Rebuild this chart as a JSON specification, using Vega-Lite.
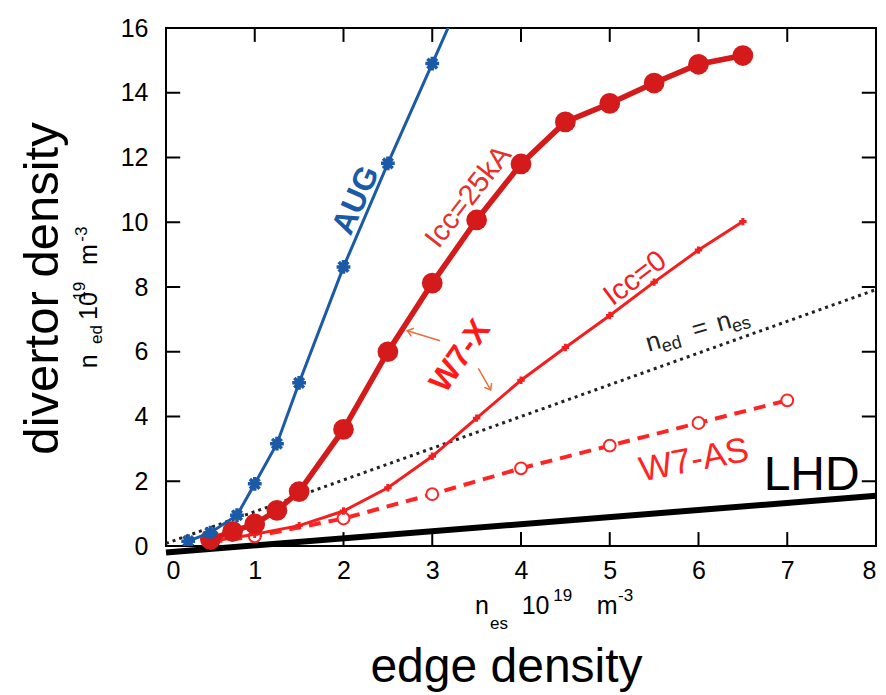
{
  "$schema": "https://vega.github.io/schema/vega-lite/v6.json",
  "width": 710,
  "height": 518,
  "autosize": {"type": "none"},
  "padding": {"left": 166, "top": 28, "right": 10, "bottom": 149},
  "background": "white",
  "config": {
    "font": "Liberation Sans",
    "view": {"stroke": "black", "strokeWidth": 2},
    "axis": {
      "grid": false,
      "domain": false,
      "ticks": false,
      "labelFontSize": 25,
      "labelColor": "black",
      "labelFont": "Liberation Sans",
      "titleColor": "black",
      "titleFont": "Liberation Sans",
      "titleFontWeight": "normal"
    }
  },
  "datasets": {
    "lhd": [{"x": 0, "y": -0.2}, {"x": 8, "y": 1.55}],
    "ref": [{"x": 0, "y": 0.08}, {"x": 8, "y": 7.92}],
    "ticks": [
      {"id": "b1", "x": 1, "y": 0}, {"id": "b1", "x": 1, "y": 0.43},
      {"id": "b2", "x": 2, "y": 0}, {"id": "b2", "x": 2, "y": 0.43},
      {"id": "b3", "x": 3, "y": 0}, {"id": "b3", "x": 3, "y": 0.43},
      {"id": "b4", "x": 4, "y": 0}, {"id": "b4", "x": 4, "y": 0.43},
      {"id": "b5", "x": 5, "y": 0}, {"id": "b5", "x": 5, "y": 0.43},
      {"id": "b6", "x": 6, "y": 0}, {"id": "b6", "x": 6, "y": 0.43},
      {"id": "b7", "x": 7, "y": 0}, {"id": "b7", "x": 7, "y": 0.43},
      {"id": "t1", "x": 1, "y": 16}, {"id": "t1", "x": 1, "y": 15.57},
      {"id": "t2", "x": 2, "y": 16}, {"id": "t2", "x": 2, "y": 15.57},
      {"id": "t3", "x": 3, "y": 16}, {"id": "t3", "x": 3, "y": 15.57},
      {"id": "t4", "x": 4, "y": 16}, {"id": "t4", "x": 4, "y": 15.57},
      {"id": "t5", "x": 5, "y": 16}, {"id": "t5", "x": 5, "y": 15.57},
      {"id": "t6", "x": 6, "y": 16}, {"id": "t6", "x": 6, "y": 15.57},
      {"id": "t7", "x": 7, "y": 16}, {"id": "t7", "x": 7, "y": 15.57},
      {"id": "l2", "x": 0, "y": 2}, {"id": "l2", "x": 0.16, "y": 2},
      {"id": "l4", "x": 0, "y": 4}, {"id": "l4", "x": 0.16, "y": 4},
      {"id": "l6", "x": 0, "y": 6}, {"id": "l6", "x": 0.16, "y": 6},
      {"id": "l8", "x": 0, "y": 8}, {"id": "l8", "x": 0.16, "y": 8},
      {"id": "l10", "x": 0, "y": 10}, {"id": "l10", "x": 0.16, "y": 10},
      {"id": "l12", "x": 0, "y": 12}, {"id": "l12", "x": 0.16, "y": 12},
      {"id": "l14", "x": 0, "y": 14}, {"id": "l14", "x": 0.16, "y": 14},
      {"id": "r2", "x": 7.84, "y": 2}, {"id": "r2", "x": 8, "y": 2},
      {"id": "r4", "x": 7.84, "y": 4}, {"id": "r4", "x": 8, "y": 4},
      {"id": "r6", "x": 7.84, "y": 6}, {"id": "r6", "x": 8, "y": 6},
      {"id": "r8", "x": 7.84, "y": 8}, {"id": "r8", "x": 8, "y": 8},
      {"id": "r10", "x": 7.84, "y": 10}, {"id": "r10", "x": 8, "y": 10},
      {"id": "r12", "x": 7.84, "y": 12}, {"id": "r12", "x": 8, "y": 12},
      {"id": "r14", "x": 7.84, "y": 14}, {"id": "r14", "x": 8, "y": 14}
    ],
    "aug": [
      {"x": 0.25, "y": 0.15}, {"x": 0.5, "y": 0.41}, {"x": 0.8, "y": 0.95}, {"x": 1.0, "y": 1.92},
      {"x": 1.25, "y": 3.16}, {"x": 1.5, "y": 5.04}, {"x": 2.0, "y": 8.62}, {"x": 2.5, "y": 11.82},
      {"x": 3.0, "y": 14.9}, {"x": 3.5, "y": 18.0}
    ],
    "w7x25": [
      {"x": 0.5, "y": 0.2}, {"x": 0.75, "y": 0.45}, {"x": 1.0, "y": 0.68}, {"x": 1.25, "y": 1.1},
      {"x": 1.5, "y": 1.68}, {"x": 2.0, "y": 3.6}, {"x": 2.5, "y": 6.0}, {"x": 3.0, "y": 8.12},
      {"x": 3.5, "y": 10.07}, {"x": 4.0, "y": 11.8}, {"x": 4.5, "y": 13.1}, {"x": 5.0, "y": 13.67},
      {"x": 5.5, "y": 14.3}, {"x": 6.0, "y": 14.88}, {"x": 6.5, "y": 15.15}
    ],
    "w7x0": [
      {"x": 0.5, "y": 0.15}, {"x": 0.75, "y": 0.25}, {"x": 1.0, "y": 0.36}, {"x": 1.5, "y": 0.63},
      {"x": 2.0, "y": 1.08}, {"x": 2.5, "y": 1.8}, {"x": 3.0, "y": 2.77}, {"x": 3.5, "y": 3.95},
      {"x": 4.0, "y": 5.12}, {"x": 4.5, "y": 6.13}, {"x": 5.0, "y": 7.12}, {"x": 5.5, "y": 8.15},
      {"x": 6.0, "y": 9.14}, {"x": 6.5, "y": 10.02}
    ],
    "w7as": [
      {"x": 0.5, "y": 0.12}, {"x": 1.0, "y": 0.3}, {"x": 2.0, "y": 0.85}, {"x": 3.0, "y": 1.6},
      {"x": 4.0, "y": 2.4}, {"x": 5.0, "y": 3.1}, {"x": 6.0, "y": 3.8}, {"x": 7.0, "y": 4.5}
    ]
  },
  "encoding": {
    "x": {"field": "x", "type": "quantitative", "scale": {"domain": [0, 8], "nice": false, "zero": false}, "axis": null},
    "y": {"field": "y", "type": "quantitative", "scale": {"domain": [0, 16], "nice": false, "zero": false}, "axis": null}
  },
  "layer": [
    {
      "data": {"name": "lhd"},
      "mark": {"type": "line", "color": "black", "strokeWidth": 6, "clip": false},
      "encoding": {
        "x": {"field": "x", "type": "quantitative", "scale": {"domain": [0, 8], "nice": false, "zero": false},
          "axis": {"orient": "bottom", "values": [0, 1, 2, 3, 4, 5, 6, 7, 8], "format": "d", "labelPadding": 12,
            "title": "edge density", "titleFontSize": 48, "titleBaseline": "alphabetic", "titleX": 340, "titleY": 135}},
        "y": {"field": "y", "type": "quantitative", "scale": {"domain": [0, 16], "nice": false, "zero": false},
          "axis": {"orient": "left", "values": [0, 2, 4, 6, 8, 10, 12, 14, 16], "format": "d", "labelPadding": 18,
            "title": "divertor density", "titleFontSize": 49, "titleBaseline": "alphabetic", "titleAngle": 270, "titleX": -109, "titleY": 260}}
      }
    },
    {
      "data": {"name": "ticks"},
      "mark": {"type": "line", "color": "black", "strokeWidth": 2, "clip": false},
      "encoding": {"detail": {"field": "id"}}
    },
    {
      "data": {"name": "ref"},
      "mark": {"type": "line", "color": "#222222", "strokeWidth": 3, "strokeDash": [3, 4]}
    },
    {
      "data": {"name": "w7as"},
      "mark": {"type": "line", "color": "#ff2424", "strokeWidth": 4, "strokeDash": [12, 8]}
    },
    {
      "data": {"name": "w7as"},
      "mark": {"type": "point", "shape": "circle", "filled": false, "fill": "white", "fillOpacity": 1, "stroke": "#ff2424", "strokeWidth": 2, "size": 140, "opacity": 1}
    },
    {
      "data": {"name": "w7x0"},
      "mark": {"type": "line", "color": "#f51e1e", "strokeWidth": 3}
    },
    {
      "data": {"name": "w7x0"},
      "mark": {"type": "point", "shape": "cross", "filled": true, "color": "#f51e1e", "size": 55, "opacity": 1}
    },
    {
      "data": {"name": "w7x25"},
      "mark": {"type": "line", "color": "#d41a1a", "strokeWidth": 5.5}
    },
    {
      "data": {"name": "w7x25"},
      "mark": {"type": "point", "shape": "circle", "filled": true, "color": "#d41a1a", "size": 430, "opacity": 1}
    },
    {
      "data": {"name": "aug"},
      "mark": {"type": "line", "color": "#1a5aa6", "strokeWidth": 3, "clip": true}
    },
    {
      "data": {"name": "aug"},
      "mark": {"type": "point", "shape": "M0,-1L0,1M-1,0L1,0M-0.7,-0.7L0.7,0.7M-0.7,0.7L0.7,-0.7", "filled": false, "stroke": "#1a5aa6", "strokeWidth": 3.5, "size": 190, "opacity": 1, "clip": true}
    },
    {
      "data": {"values": [{"x": 3.088, "y": 6.34, "x2": 2.719, "y2": 6.65}, {"x": 3.519, "y": 5.49, "x2": 3.658, "y2": 4.82}]},
      "mark": {"type": "rule", "color": "#e8703a", "strokeWidth": 1.5},
      "encoding": {
        "x2": {"field": "x2"},
        "y2": {"field": "y2"}
      }
    },
    {
      "data": {"values": [{"x": 2.719, "y": 6.65}]},
      "mark": {"type": "point", "shape": "M-0.7,0.9L0,0L0.7,0.9", "filled": false, "stroke": "#e8703a", "strokeWidth": 1.5, "size": 150, "angle": 287, "opacity": 1}
    },
    {
      "data": {"values": [{"x": 3.658, "y": 4.82}]},
      "mark": {"type": "point", "shape": "M-0.7,0.9L0,0L0.7,0.9", "filled": false, "stroke": "#e8703a", "strokeWidth": 1.5, "size": 150, "angle": 150, "opacity": 1}
    },
    {
      "data": {"values": [{"t": "AUG", "x": 2.14, "y": 10.68}]},
      "mark": {"type": "text", "font": "Liberation Sans", "fontWeight": "bold", "fontSize": 32, "angle": 294, "color": "#1a5aa6", "align": "center", "baseline": "middle"},
      "encoding": {"text": {"field": "t"}}
    },
    {
      "data": {"values": [{"t": "Icc=25kA", "x": 3.406, "y": 10.79}]},
      "mark": {"type": "text", "font": "Liberation Sans", "fontSize": 29, "angle": 308, "color": "#e8302a", "align": "center", "baseline": "middle"},
      "encoding": {"text": {"field": "t"}}
    },
    {
      "data": {"values": [{"t": "Icc=0", "x": 5.285, "y": 8.27}]},
      "mark": {"type": "text", "font": "Liberation Sans", "fontSize": 29, "angle": 323, "color": "#f51e1e", "align": "center", "baseline": "middle"},
      "encoding": {"text": {"field": "t"}}
    },
    {
      "data": {"values": [{"t": "W7-X", "x": 3.313, "y": 5.87}]},
      "mark": {"type": "text", "font": "Liberation Sans", "fontWeight": "bold", "fontSize": 32, "angle": 305, "color": "#ff1a1a", "align": "center", "baseline": "middle"},
      "encoding": {"text": {"field": "t"}}
    },
    {
      "data": {"values": [{"t": "W7-AS", "x": 5.949, "y": 2.656}]},
      "mark": {"type": "text", "font": "Liberation Sans", "fontSize": 35, "angle": 349, "color": "#ff2424", "align": "center", "baseline": "middle"},
      "encoding": {"text": {"field": "t"}}
    },
    {
      "data": {"values": [{"t": "LHD", "x": 7.275, "y": 1.73}]},
      "mark": {"type": "text", "font": "Liberation Sans", "fontSize": 48, "color": "black", "align": "center", "baseline": "alphabetic"},
      "encoding": {"text": {"field": "t"}}
    },
    {
      "data": {"values": [{"t": "n", "x": 5.438, "y": 6.003}, {"t": "=", "x": 5.958, "y": 6.409}, {"t": "n", "x": 6.23, "y": 6.622}]},
      "mark": {"type": "text", "font": "Liberation Sans", "fontSize": 26, "angle": 344, "color": "#222222", "align": "left", "baseline": "alphabetic"},
      "encoding": {"text": {"field": "t"}}
    },
    {
      "data": {"values": [{"t": "ed", "x": 5.606, "y": 5.974}, {"t": "es", "x": 6.397, "y": 6.594}]},
      "mark": {"type": "text", "font": "Liberation Sans", "fontSize": 18, "angle": 344, "color": "#222222", "align": "left", "baseline": "alphabetic"},
      "encoding": {"text": {"field": "t"}}
    },
    {
      "data": {"values": [{"t": "n", "x": 3.482, "y": -2.1}, {"t": "10", "x": 4.008, "y": -2.1}, {"t": "m", "x": 4.853, "y": -2.1}]},
      "mark": {"type": "text", "font": "Liberation Sans", "fontSize": 25, "color": "black", "align": "left", "baseline": "alphabetic", "clip": false},
      "encoding": {"text": {"field": "t"}}
    },
    {
      "data": {"values": [{"t": "es", "x": 3.651, "y": -2.56}, {"t": "19", "x": 4.364, "y": -1.69}, {"t": "-3", "x": 5.093, "y": -1.69}]},
      "mark": {"type": "text", "font": "Liberation Sans", "fontSize": 17, "color": "black", "align": "left", "baseline": "alphabetic", "clip": false},
      "encoding": {"text": {"field": "t"}}
    },
    {
      "data": {"values": [{"t": "n", "x": -0.781, "y": 5.49}, {"t": "10", "x": -0.781, "y": 6.98}, {"t": "m", "x": -0.781, "y": 8.68}]},
      "mark": {"type": "text", "font": "Liberation Sans", "fontSize": 25, "angle": 270, "color": "black", "align": "left", "baseline": "alphabetic", "clip": false},
      "encoding": {"text": {"field": "t"}}
    },
    {
      "data": {"values": [{"t": "ed", "x": -0.724, "y": 6.24}, {"t": "19", "x": -0.913, "y": 7.58}, {"t": "-3", "x": -0.894, "y": 9.4}]},
      "mark": {"type": "text", "font": "Liberation Sans", "fontSize": 17, "angle": 270, "color": "black", "align": "left", "baseline": "alphabetic", "clip": false},
      "encoding": {"text": {"field": "t"}}
    }
  ],
  "resolve": {"axis": {"x": "independent", "y": "independent"}}
}
